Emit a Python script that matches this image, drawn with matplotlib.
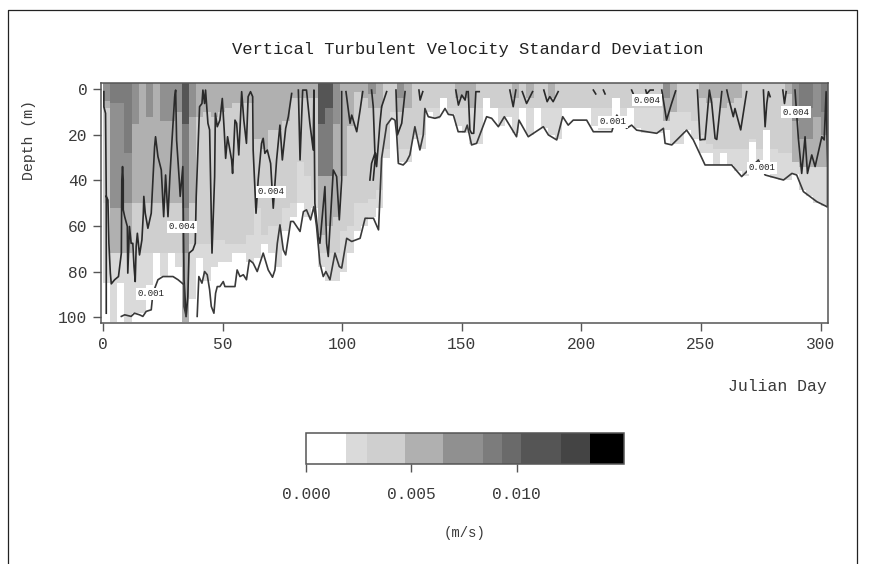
import numpy as np
import matplotlib
matplotlib.use("Agg")
import matplotlib.pyplot as plt
from matplotlib.colors import ListedColormap, BoundaryNorm
from matplotlib.lines import Line2D

nan = float("nan")

# colour classes of the shading (m/s)
level_edges = [0, .0019, .0029, .0047, .0065, .0084, .0093, .0102, .0121, .0135, .0151]
level_colors = ["#ffffff", "#dadada", "#cfcfcf", "#b0b0b0", "#909090",
                "#7c7c7c", "#6a6a6a", "#555555", "#444444", "#000000"]

# columns are 3 days wide, values are the depth down to which sigma stays above a class
band_d9 = [85, 102, 85, 102, 98, 98, 86, 72, 82, 72,
           78, 102, 92, 74, 84, 78, 76, 76, 72, 72,
           76, 74, 68, 72, 78, 62, 56, 50, 56, 52,
           78, 84, 84, 80, 72, 62, 60, 56, 52, 30,
           13, 32, 32, 22, 26, 10, 13, 4, 11, 16,
           19, 24, 24, 4, 8, 16, 12, 19, 8, 20,
           8, 17, 20, 22, 8, 8, 8, 8, 16, 18,
           18, 4, 14, 8, 17, 19, 19, 19, 18, 24,
           24, 18, 22, 28, 28, 33, 28, 33, 36, 38,
           23, 31, 18, 39, 40, 40, 37, 44, 47, 50, 51]
band_cf = [50, 72, 72, 72, 72, 72, 72, 72, 72, 72,
           72, 102, 68, 68, 68, 66, 66, 68, 68, 68,
           64, 52, 64, 60, 60, 52, 50, 32, 38, 44,
           72, 72, 72, 62, 60, 50, 50, 48, 44, 26,
           10, 26, 26, 20, 20, 8, 8, 4, 8, 8,
           8, 8, 8, 4, 8, 8, 8, 8, 8, 8,
           8, 8, 8, 8, 8, 8, 8, 8, 8, 8,
           8, 4, 8, 8, 8, 8, 8, 8, 10, 10,
           10, 10, 14, 20, 24, 26, 26, 26, 26, 26,
           22, 26, 18, 26, 28, 28, 28, 34, 34, 34, 34]
band_b0 = [8, 72, 72, 72, 50, 50, 50, 50, 50, 50,
           50, 102, 50, 12, 10, 12, 10, 8, 6, 6,
           6, 22, 26, 18, 18, 14, 4, 4, 4, 4,
           64, 60, 56, 38, 16, 1, 4, 8, 8, 0,
           0, 10, 8, 0, 0, 0, 0, 0, 0, 4,
           4, 8, 0, 0, 0, 0, 0, 4, 0, 4,
           0, 0, 4, 0, 0, 0, 0, 0, 0, 0,
           0, 0, 0, 0, 0, 0, 0, 0, 14, 10,
           0, 0, 0, 4, 6, 4, 8, 6, 4, 0,
           0, 0, 0, 0, 0, 2, 32, 34, 34, 34, 34]
band_90 = [5, 52, 52, 50, 15, 0, 12, 0, 14, 14,
           10, 72, 12, 0, 0, 0, 0, 0, 0, 0,
           0, 0, 0, 0, 0, 0, 0, 0, 0, 0,
           38, 38, 15, 0, 0, 0, 0, 2, 0, 0,
           0, 4, 0, 0, 0, 0, 0, 0, 0, 0,
           0, 0, 0, 0, 0, 0, 0, 0, 0, 0,
           0, 0, 0, 0, 0, 0, 0, 0, 0, 0,
           0, 0, 0, 0, 0, 0, 0, 0, 4, 0,
           0, 0, 0, 0, 0, 0, 0, 0, 0, 0,
           0, 0, 0, 0, 0, 0, 14, 22, 22, 12, 20]
band_7a = [0, 6, 6, 28, 0, 0, 0, 0, 0, 0,
           0, 52, 0, 0, 0, 0, 0, 0, 0, 0,
           0, 0, 0, 0, 0, 0, 0, 0, 0, 0,
           38, 38, 0, 0, 0, 0, 0, 0, 0, 0,
           0, 0, 0, 0, 0, 0, 0, 0, 0, 0,
           0, 0, 0, 0, 0, 0, 0, 0, 0, 0,
           0, 0, 0, 0, 0, 0, 0, 0, 0, 0,
           0, 0, 0, 0, 0, 0, 0, 0, 0, 0,
           0, 0, 0, 0, 0, 0, 0, 0, 0, 0,
           0, 0, 0, 0, 0, 0, 0, 10, 8, 0, 10]
band_55 = {11: 15, 30: 15, 31: 8}
band_values = [.0024, .0038, .0056, .0075, .0088]

# the 0.001 contour
c001_day = [7.7, 9.1, 11.8, 13.2, 15.3, 16.7, 18.1, 20.2, 20.9, 23, 25.1, 27.2, 29.3, 31.4, 33.9, 33.9, 34.8, nan,
            39.4, 40.1, 41.4, 42.5, 43.6, 44.6, 45.3, 46.4, 47.1, 47.8, 48.9, 50.3, 51, 55.2, 56.1, 57.3, 58.7, 60,
            61.2, 62.8, 64.5, 67, 69.1, 70.9, 71.9, 72.9, 74, 75.4, 76.4, 78.5, 79.6, 82.4, 83.8, 85.1, 86.8, 88.2,
            89.3, 90.7, 92.1, 93.2, 94.9, 97, 98.8, 99.8, 101.9, 104, 107.5, 109.6, 113.1, 115.2, 116.5, 118.6,
            120.7, 122.1, 122.8, 123.5, 125.5, 126.9, 128.3, 130.4, 132.5, 133.9, 134.6, 136, 138.8, 140.9, 143,
            144.4, 146.5, 148.5, 151.3, 152.3, 154.1, 156.2, 160.4, 162.5, 165.3, 167.8, 172.9, 173.9, 177.8, 184.1,
            186.2, 189.7, 192.2, 194.5, 196.6, 202.2, 205, 212.7, 214.8, 216.2, 218.9, 221, 223.1, 231.5, 234.3,
            235, 237.8, 244, 246.8, 251.7, 256.6, 262.8, 267, 269.8, 274, 276.8, 284.5, 288, 290, 292.8, 298.4, 302.6]
c001_depth = [99.7, 99, 99.7, 98.3, 99, 99.7, 97.5, 96.8, 89.5, 83.6, 82.2, 82.2, 82.2, 83.6, 85.8, 95.3, 99.7, nan,
              99.7, 82.2, 85.1, 80, 81.4, 88, 95.3, 98.3, 89.5, 86.6, 86.6, 84.4, 86.6, 86.6, 79.3, 82.2, 81.4, 83.6,
              74.9, 76.3, 80, 71.9, 79.3, 82.5, 79.3, 67.6, 59.5, 70.5, 72.7, 58, 58, 62.4, 53.7, 52.9, 57.3, 51.5,
              60.2, 76.3, 82.2, 80, 83.6, 71.9, 77.8, 78.5, 65.4, 66.8, 65.4, 56.6, 56.6, 61.7, 30.3, 15.7,
              12.7, 13.5, 20, 32.5, 33.2, 31.7, 28.8, 16.4, 26.6, 20, 8.4, 12, 12.7, 12, 8.4,
              11, 11.3, 18.6, 18.6, 15.7, 24.4, 23.7, 12, 12.7, 16.4, 12, 20.8, 13.5, 20.8, 16.4,
              20, 22.2, 12, 15.7, 13.5, 13.5, 18.6, 18.6, 11.3, 13.5, 17.1, 15.7, 17.9, 19.3, 17.1,
              23.7, 24.4, 17.9, 22.2, 33.2, 33.2, 33.2, 38.3, 35.4, 31, 37.6, 39.8, 36.9, 37.6, 44.9, 49.3, 51.5]

# the 0.004 contour
c004_day = [1.4, 1.4, nan,
            .4, .4, 1.1, 1.4, 2.1, 2.5, 3.1, 3.5, 4.9, 6.5, 7.7, 7.9, 8.2, 8.5, 8.5, 9.1, 10.2, 10.4, 11.1, 11.8,
            12.5, 13, 13.5, 13.9, 14.4, 15.3, 16.3, 16.9, 17.1, 17.7, 18.8, 20.2, 21.6, 22, 23, 24.4, 25.4, 26.2,
            27.2, 28, 28.8, 30, 30.4, 30.8, 32, 32.3, 33.4, 33.9, 34.8, 35.5, 36, 37.6, 38.6, 39, 40.4, 41.4, 41.8,
            42.5, 42.9, 43.9, 44.6, 45.6, 46.7, 47, 47.8, 48.9, 49.9, 50.7, 51.3, 52.1, 53.8, 54.2, 55.2, 55.9,
            56.8, 58, 58.9, 60, 60.7, 61.7, 62.6, 62.8, 63.5, 64, 64.9, 66.3, 67, 67.7, 68.7, 70.1, 71.2, 72.6, 74,
            75, 76.4, 77.5, 78.9, nan,
            81.7, 82.4, 83.5, 85.1, 86.5, 87.9, 88.2, 88.6, 90, 90.7, 92.8, 93.5, 94.2, 96.3, 97.7, 98.8, 99.8, 99.8, nan,
            101.6, 103.3, 104, 106.1, 107.5, 108.6, nan,
            112.3, 113, 113.7, 112.3, 111.6, nan,
            113, 114, 114.4, 115.8, 116.5, 118.6, nan,
            122.5, 123.1, 124.9, 126.3, nan,
            132.1, 132.6, 133.7, nan,
            147.5, 148.6, 150, 151.4, 152, nan,
            152.7, 153.4, 154.1, 155, 155.9, 157.3, nan,
            170.1, 171.5, 172.6, nan,
            175.3, 177.1, 179.6, nan,
            184.3, 185.7, 186.8, 188.2, 190.3, nan,
            205, 206, nan, 209.2, 209.9, nan, 221, 221.7, nan,
            226.9, 227.3, 228.7, 230, nan,
            233.6, 235.6, 237.7, 239.4, nan,
            248.5, 249.6, 250.7, 251.7, 253.5, 254.5, 255.9, 256.6, 258.7, nan,
            260.8, 261.4, 263.5, 264.2, 266.6, 269.1, nan,
            276.1, 276.8, 277.5, 278.2, 278.9, nan,
            284.2, 284.9, 285.6, nan,
            289.3, 290.7, 292.1, 293.5, 294.5, 296.3, 297.7, 300.5, 301.5, 302.3, 302.9, 302.9]
c004_depth = [47, 98.3, nan,
              1, 7.6, 10.5, 47, 48.6, 67.6, 80.7, 85.4, 83.6, 82.2, 71.9, 39.8, 33.9, 39.8, 52.9, 55.9, 60.2, 80.7, 60.2, 67.6,
              67.6, 77.8, 84.4, 69, 63.2, 72.7, 66.1, 54.4, 47, 54.4, 61, 54.4, 25.2, 20.8, 29.5, 35.4, 55.9, 37.6,
              55.9, 38.3, 23.7, 3.2, .3, 22.2, 41.2, 47, 33.9, 83.6, 99.7, 91, 71.9, 70.5, 67.6, 47, 7.6, 6.2, .3,
              6.2, .3, 14.9, 17.8, 71.9, 38.3, 10.5, 16.4, 13.5, 4, 17.8, 30.3, 20.8, 31, 36.9, 13.5, 14.9,
              28.8, 1, 13.5, 23.7, 3.2, 1, 3.2, 26.6, 42.7, 54.4, 39.8, 23.7, 21.5, 28.1, 26.6, 32.5, 52.2, 31, 15.7,
              31, 17.1, 12, 1.8, nan,
              .3, 31, .3, .3, 14.9, 26.6, .3, 50, 64.6, 67.6, 42.7, 67.6, 73.4, 35.4, 38.3, 57.3, 39.8, 1, nan,
              1, 14.9, 11.3, 18.6, 9.1, 1, nan,
              .3, 7.6, 28.1, 32.5, 39.8, nan,
              39.8, 28.1, 33.9, 14.9, 7.6, 1, nan,
              .3, 20, 14.9, 1, nan,
              .3, 4.7, 1, nan,
              .3, 6.9, 2.5, 4.7, 1, nan,
              1, 17.8, 19.3, 19.3, 1, 1, nan,
              .3, 7.6, .3, nan,
              1, 6.2, 1, nan,
              .3, 5.4, 3.2, 5.4, 1, nan,
              .3, 2, nan, .3, 2, nan, .3, 2, nan,
              .3, 2, .3, .3, nan,
              .3, 13.5, 6.2, .7, nan,
              .3, 22.2, 22, 22, .3, 6.2, 21.5, 22, 1, nan,
              .3, 3.2, 12, 8.4, 17.8, 1, nan,
              .3, 16.4, 6.2, 1, 3.2, nan,
              .3, 6.2, 1, nan,
              .3, 21.5, 36.9, 20.8, 36.9, 28.8, 33.9, 20.8, 22.2, 1, 32.5, 51.5]

label_text = ["0.001", "0.004", "0.004", "0.001", "0.004", "0.004", "0.001"]
label_day = [20, 33, 70.2, 213.2, 227.4, 289.7, 275.5]
label_depth = [89.8, 60.4, 45, 14.3, 4.7, 10, 34.5]

# build the shaded grid from the bands
day_edges = np.arange(0, 304, 3)
depth_edges = np.arange(-3, 104, 1.0)
depth_mid = (depth_edges[:-1] + depth_edges[1:]) / 2
grid = np.zeros((len(depth_mid), len(day_edges) - 1))
for band, val in zip([band_d9, band_cf, band_b0, band_90, band_7a], band_values):
    for i, d in enumerate(band):
        if d > 0:
            grid[depth_mid < d, i] = val
for i, d in band_55.items():
    grid[depth_mid < d, i] = .011

plt.rcParams['font.family'] = ['Liberation Mono', 'DejaVu Sans Mono']
text_col = '#3a3a3a'
line_col = '#555555'

W, H = 870, 564
fig = plt.figure(figsize=(W / 100, H / 100), dpi=100)
ax = fig.add_axes([101 / W, 1 - 323 / H, 727.5 / W, 240 / H])

cmap = ListedColormap(level_colors)
norm = BoundaryNorm(level_edges, cmap.N)
mesh = ax.pcolormesh(day_edges, depth_edges, grid, cmap=cmap, norm=norm, shading='flat')

ax.plot(c004_day, c004_depth, color='#2a2a2a', lw=1.2)
ax.plot(c001_day, c001_depth, color='#3a3a3a', lw=1.2)

for t, x, y in zip(label_text, label_day, label_depth):
    ax.text(x, y, t, fontsize=6.5, ha='center', va='center', color='#222222',
            bbox=dict(facecolor='white', edgecolor='none', pad=1.2))

ax.set_xlim(-0.8, 303.3)
ax.set_ylim(102.6, -2.8)
ax.set_xticks([0, 50, 100, 150, 200, 250, 300])
ax.set_yticks([0, 20, 40, 60, 80, 100])
ax.tick_params(length=5.8, width=1.0, color=line_col, labelsize=11.7, labelcolor=text_col, pad=4)
for s in ax.spines.values():
    s.set_color(line_col)
    s.set_linewidth(1.1)

ax.set_ylabel('Depth (m)', fontsize=10.7, color=text_col, va='center')
ax.yaxis.set_label_coords((29 - 101) / 727.5, (323 - 140) / 240)

fig.text(467.5 / W, 1 - 49.5 / H, 'Vertical Turbulent Velocity Standard Deviation',
         fontsize=12.3, ha='center', va='center', color='#222222')
fig.text(827 / W, 1 - 386 / H, 'Julian Day', fontsize=11.9, ha='right', va='center', color=text_col)
fig.text(465 / W, 1 - 533 / H, '(m/s)', fontsize=10, ha='center', va='center', color=text_col)

# colour bar
cax = fig.add_axes([306 / W, 1 - 464 / H, 318 / W, 31 / H])
cb = fig.colorbar(mesh, cax=cax, orientation='horizontal', spacing='proportional',
                  ticks=[0, .005, .01], format='%.3f')
cb.ax.tick_params(length=5.8, width=1.0, color=line_col, labelsize=11.7, labelcolor=text_col, pad=10.5)
cb.ax.minorticks_off()
cb.outline.set_edgecolor(line_col)
cb.outline.set_linewidth(1.1)

# page frame (left, top and right rules of the scanned page)
fig.add_artist(Line2D([8 / W, 8 / W, 857 / W, 857 / W], [0, 1 - 10 / H, 1 - 10 / H, 0],
                      color='#222222', lw=0.9))

fig.savefig('out.png', dpi=100)
